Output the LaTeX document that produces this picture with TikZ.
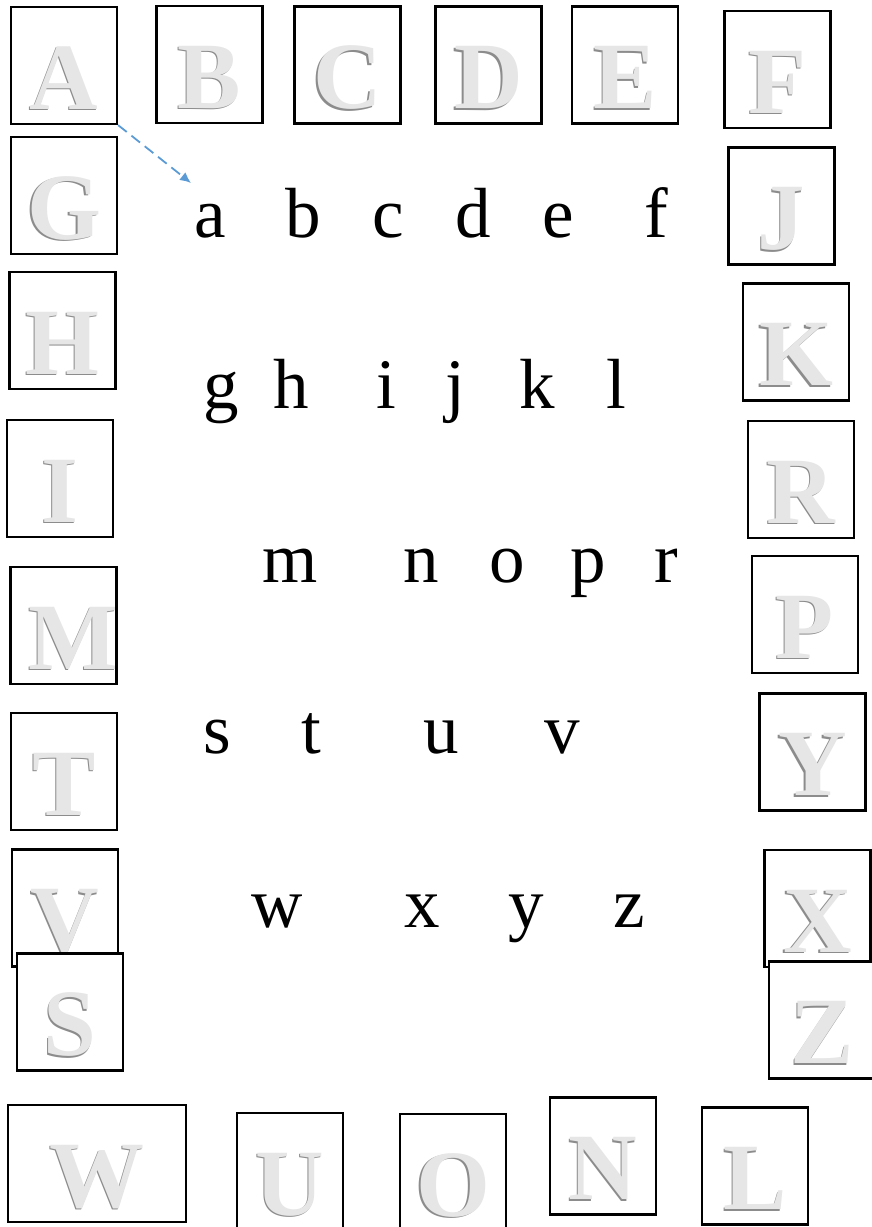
\documentclass[tikz,border=0pt]{standalone}
\usepackage{fontspec}
\setmainfont{Liberation Serif}
\usepackage{xcolor}
\usepackage{tikz}
\usetikzlibrary{positioning,arrows.meta}
\definecolor{ArrowBlue}{HTML}{5B9BD5}
\definecolor{CapLight}{HTML}{E6E6E6}
\definecolor{CapShade}{HTML}{8C8C8C}
\newcommand\emboss[1]{\rlap{\kern-1.3pt\raisebox{-1.6pt}{\color{CapShade}#1}}{\color{CapLight}#1}}

\begin{document}
\begin{tikzpicture}[x=1pt, y=-1pt,
  capbox/.style={draw=black, line width=2.2pt, fill=white, inner sep=0pt,
    minimum width=106pt, minimum height=117pt, text height=87pt, text depth=0pt,
    font=\fontsize{95}{100}\selectfont\bfseries},
  small/.style={anchor=base, inner sep=0pt, font=\fontsize{71}{80}\selectfont},
  hint/.style={ArrowBlue, line width=1.8pt, dash pattern=on 11pt off 6pt,
    -{Latex[length=11pt,width=10pt]}}]
\useasboundingbox (0,0) rectangle (872,1227);
% boxed capitals round the border
\foreach \n/\x/\y in {A/64/65.5, B/209.5/64.5, C/347.5/65, D/488.5/65, E/625/65, F/777.5/69.5,
    G/64/195.5, J/781.5/206, H/62.5/330.5, K/796/342, I/60/478.5, R/801/479.5,
    P/805/614.5, T/64/771.5, Y/812.5/752, V/65/908, X/817.5/908.5, S/70/1012, Z/822/1020,
    U/290/1171.5, O/453/1172.5, N/603/1156, L/755/1166}
  \node[capbox] (\n) at (\x,\y) {\emboss{\n}};
\node[capbox] (M) at (63.5,625.5) {\emboss{\kern10pt M\kern-10pt}};
\node[capbox, minimum width=178pt] (W) at (97,1163.5) {\emboss{W}};
% small letters in the middle
\foreach \n/\x/\y in {a/210.5/237, b/303/237, c/388.5/237, d/473.5/237, e/558/237, f/656.5/237,
    g/221/408, h/291.5/408, i/386.5/408, j/455/408, k/537.5/408, l/616.5/408,
    m/290/582, n/421.5/582, o/507.5/582, p/588.5/582, r/666.5/582,
    s/217.5/753, t/311/753, u/441/753, v/562.5/753,
    w/277.5/927, x/422.5/927, y/526/927, z/629/927}
  \node[small] (\n) at (\x,\y) {\n};
\coordinate (aTip) at (191,183);
\draw[hint] (A.south east) -- (aTip);
\end{tikzpicture}
\end{document}
